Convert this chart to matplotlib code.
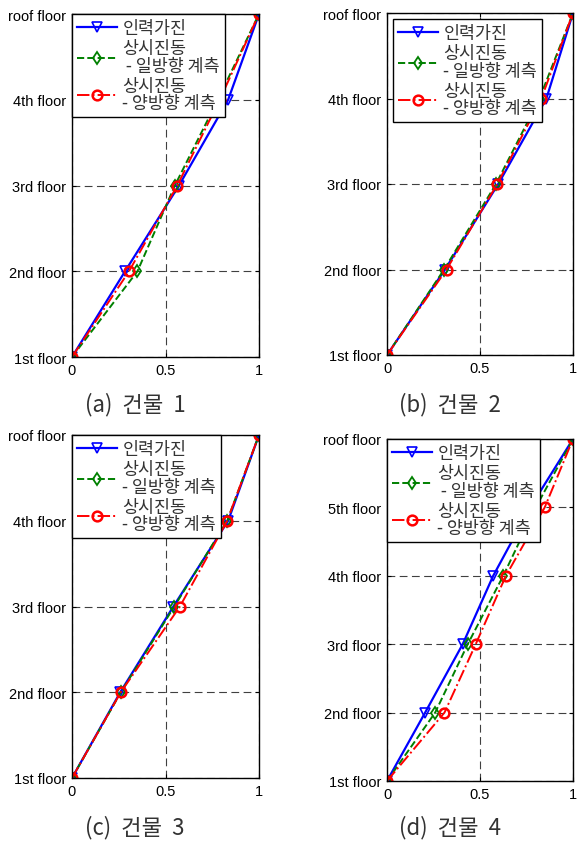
import matplotlib
matplotlib.use('Agg')
import matplotlib.pyplot as plt

plt.rcParams['font.family'] = ['Liberation Sans', 'Noto Sans CJK KR', 'DejaVu Sans']

# floor labels
floors5 = ['1st floor', '2nd floor', '3rd floor', '4th floor', 'roof floor']
floors6 = ['1st floor', '2nd floor', '3rd floor', '4th floor', '5th floor', 'roof floor']

# (a) building 1
a_forced = [0, 0.284, 0.572, 0.835, 1]
a_one = [0, 0.35, 0.55, 0.78, 1]
a_two = [0, 0.305, 0.563, 0.79, 1]

# (b) building 2
b_forced = [0, 0.312, 0.598, 0.857, 1]
b_one = [0, 0.307, 0.586, 0.82, 1]
b_two = [0, 0.32, 0.593, 0.83, 1]

# (c) building 3
c_forced = [0, 0.258, 0.542, 0.835, 1]
c_one = [0, 0.261, 0.547, 0.83, 1]
c_two = [0, 0.261, 0.577, 0.83, 1]

# (d) building 4
d_forced = [0, 0.205, 0.407, 0.571, 0.77, 1]
d_one = [0, 0.259, 0.434, 0.625, 0.80, 1]
d_two = [0, 0.309, 0.477, 0.639, 0.848, 1]

captions = ['(a)  건물  1', '(b)  건물  2', '(c)  건물  3', '(d)  건물  4']

W, H = 577, 845
fig = plt.figure(figsize=(W / 100, H / 100), dpi=100)


def make_ax(left, top, right, bottom):
    return fig.add_axes([left / W, 1 - bottom / H, (right - left) / W, (bottom - top) / H])


panels = [
    (make_ax(72, 15, 259, 358), a_forced, a_one, a_two, floors5,
     ['인력가진', '상시진동\n - 일방향 계측', '상시진동\n- 양방향 계측'], 0.0),
    (make_ax(387, 14, 573, 356), b_forced, b_one, b_two, floors5,
     ['인력가진', '상시진동\n- 일방향 계측', '상시진동\n- 양방향 계측'], 0.35),
    (make_ax(72, 436, 259, 779), c_forced, c_one, c_two, floors5,
     ['인력가진', '상시진동\n- 일방향 계측', '상시진동\n- 양방향 계측'], 0.0),
    (make_ax(387, 440, 573, 782), d_forced, d_one, d_two, floors6,
     ['인력가진', '상시진동\n - 일방향 계측', '상시진동\n- 양방향 계측'], 0.0),
]

for i, (ax, forced, one, two, floors, labels, pad) in enumerate(panels):
    y = list(range(1, len(floors) + 1))
    ax.plot(forced, y, color='b', lw=1.6, ls='-', marker='v', ms=7,
            mfc='none', mec='b', mew=1.2, label=labels[0])
    ax.plot(one, y, color='green', lw=1.4, ls='--', marker='d', ms=6,
            mfc='none', mec='green', mew=1.3, label=labels[1])
    ax.plot(two, y, color='red', lw=1.4, ls='-.', marker='o', ms=7,
            mfc='none', mec='red', mew=1.8, label=labels[2])
    ax.set_xlim(0, 1)
    ax.set_ylim(1, len(floors))
    ax.set_xticks([0, 0.5, 1])
    ax.set_xticklabels(['0', '0.5', '1'])
    ax.set_yticks(y)
    ax.set_yticklabels(floors)
    ax.grid(True, ls=(0, (7, 4)), color='0.25', lw=0.8)
    ax.tick_params(direction='in', labelsize=10.5, pad=4, length=3,
                   top=True, right=True)
    for s in ax.spines.values():
        s.set_linewidth(1.0)
    leg = ax.legend(loc='upper left', borderaxespad=pad, fancybox=False,
                    edgecolor='k', framealpha=1, handlelength=2.3,
                    labelspacing=0.12, borderpad=0.3, handletextpad=0.3,
                    prop={'family': ['Noto Sans CJK KR'], 'size': 12.5})
    leg.get_frame().set_linewidth(1.0)
    for t in leg.get_texts():
        t.set_color('0.2')
        t.set_linespacing(0.95)

cap_x = [135, 450, 135, 450]
cap_y = [405, 405, 828, 828]
for cx, cy, cap in zip(cap_x, cap_y, captions):
    fig.text(cx / W, 1 - cy / H, cap, ha='center', va='center',
             fontsize=16, family=['Noto Sans CJK KR'], color='0.2')

fig.savefig('out.png', dpi=100)
